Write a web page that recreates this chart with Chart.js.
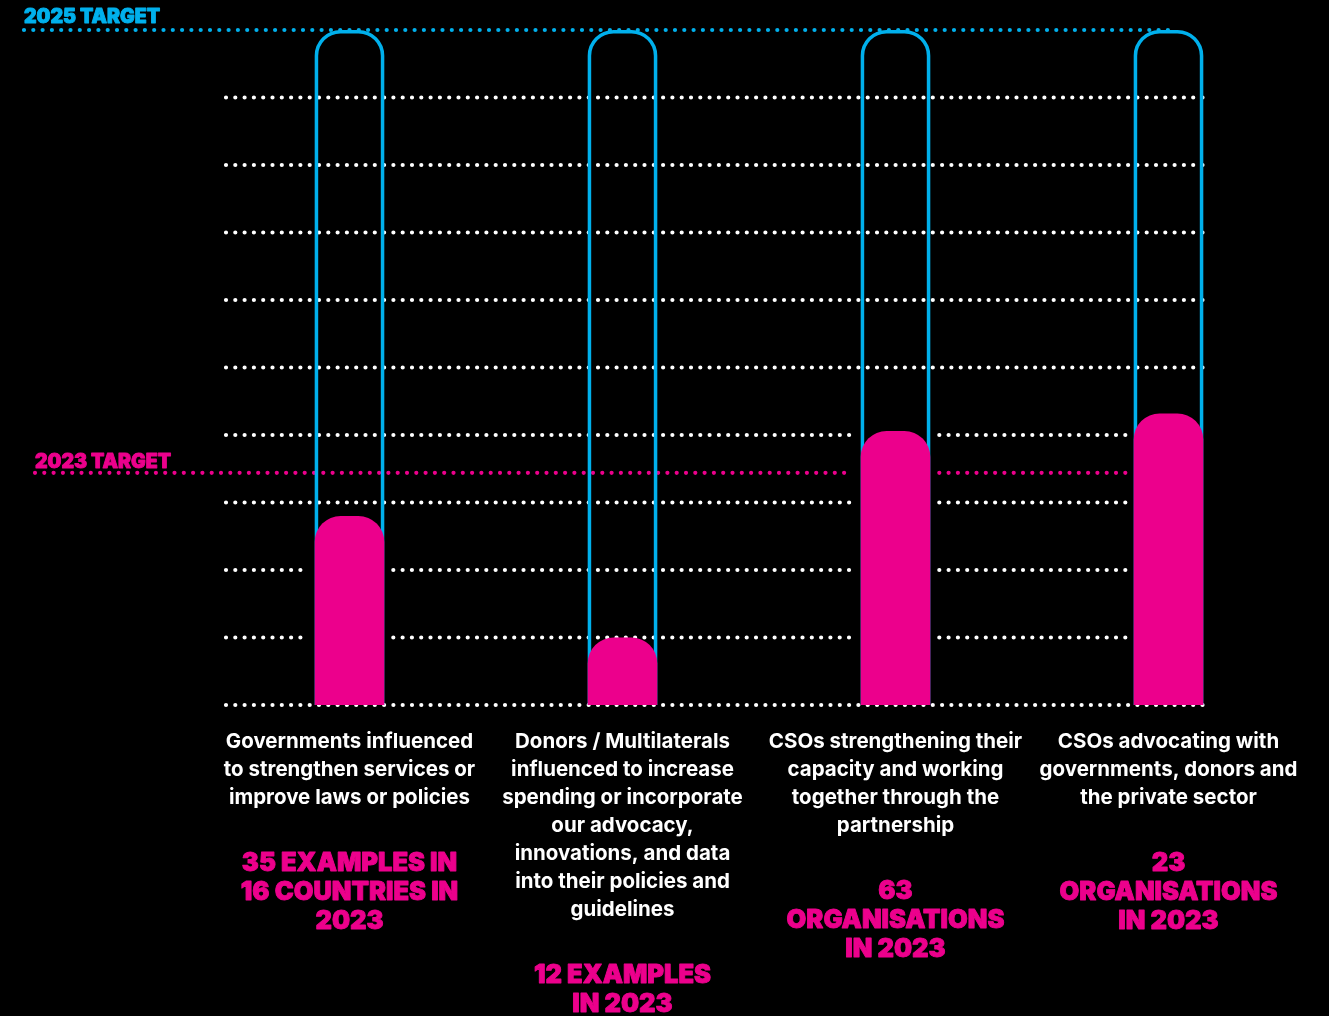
<!DOCTYPE html>
<html>
<head>
<meta charset="utf-8">
<script src="https://cdn.jsdelivr.net/npm/chart.js@4"></script>
<style>
  html, body { margin: 0; padding: 0; background: #000; }
  canvas { display: block; }
</style>
</head>
<body>
<canvas id="chart" width="1329" height="1016"></canvas>
<script>
// 数据
const categories = [
    ["Governments influenced", "to strengthen services or", "improve laws or policies"],
    ["Donors / Multilaterals", "influenced to increase", "spending or incorporate", "our advocacy,", "innovations, and data", "into their policies and", "guidelines"],
    ["CSOs strengthening their", "capacity and working", "together through the", "partnership"],
    ["CSOs advocating with", "governments, donors and", "the private sector"]
];
const results = [
    ["35 EXAMPLES IN", "16 COUNTRIES IN", "2023"],
    ["12 EXAMPLES", "IN 2023"],
    ["63", "ORGANISATIONS", "IN 2023"],
    ["23", "ORGANISATIONS", "IN 2023"]
];
// progress towards the 2025 target (%)
const progress = [28, 10, 40.6, 43.2];
const target2025 = 100;
const target2023 = 34.4;
const gridTicks = [0, 10, 20, 30, 40, 50, 60, 70, 80, 90];

const PINK = '#ec008c';
const CYAN = '#00b0ec';
const HEAVY_FONT = '900 25.5px Inter, Lato, sans-serif';

// 点状线
function dotLine(ctx, x1, x2, y, color, gaps) {
    ctx.save();
    ctx.strokeStyle = color;
    ctx.lineWidth = 4.2;
    ctx.lineCap = 'round';
    ctx.setLineDash([0, 9.3]);
    let segs = [[x1, x2]];
    gaps.forEach(g => {
        segs = segs.flatMap(([a, b]) => {
            if (g[1] <= a || g[0] >= b) return [[a, b]];
            const out = [];
            if (g[0] > a) out.push([a, g[0]]);
            if (g[1] < b) out.push([g[1], b]);
            return out;
        });
    });
    segs.forEach(([a, b]) => {
        ctx.beginPath();
        ctx.moveTo(a, y);
        ctx.lineTo(b + 1, y);
        ctx.stroke();
    });
    ctx.restore();
}

// 粗体文字（描边加粗）
function heavyText(ctx, text, x, y, color) {
    ctx.fillStyle = color;
    ctx.strokeStyle = color;
    ctx.lineWidth = 0.9;
    ctx.lineJoin = 'round';
    ctx.strokeText(text, x, y);
    ctx.fillText(text, x, y);
}

const tubePlugin = {
    id: 'tubes',
    beforeDraw(chart) {
        const ctx = chart.ctx;
        ctx.save();
        ctx.fillStyle = '#000';
        ctx.fillRect(0, 0, chart.width, chart.height);
        ctx.restore();
    },
    beforeDatasetsDraw(chart) {
        const ctx = chart.ctx;
        const y = chart.scales.y;
        const bars = chart.getDatasetMeta(0).data;
        const lastRight = bars[bars.length - 1].x + bars[bars.length - 1].width / 2;

        const gapsFor = v => bars
            .map((b, i) => progress[i] > v && v > 0 ? [b.x - b.width / 2 - 9, b.x + b.width / 2 + 9] : null)
            .filter(Boolean);

        gridTicks.forEach(t => {
            dotLine(ctx, 226, lastRight + 4, y.getPixelForValue(t), '#ffffff', gapsFor(t));
        });
        dotLine(ctx, 35, lastRight, y.getPixelForValue(target2023), PINK, gapsFor(target2023));

        // 管子
        bars.forEach(b => {
            const lw = 3.5;
            const l = b.x - b.width / 2 + lw / 2;
            const r = b.x + b.width / 2 - lw / 2;
            const top = y.getPixelForValue(target2025) + lw / 2;
            const bottom = y.getPixelForValue(0);
            const rad = 24;
            ctx.save();
            ctx.strokeStyle = CYAN;
            ctx.lineWidth = lw;
            ctx.beginPath();
            ctx.moveTo(l, bottom);
            ctx.lineTo(l, top + rad);
            ctx.arcTo(l, top, l + rad, top, rad);
            ctx.lineTo(r - rad, top);
            ctx.arcTo(r, top, r, top + rad, rad);
            ctx.lineTo(r, bottom);
            ctx.stroke();
            ctx.restore();
        });
        dotLine(ctx, 24, lastRight - 30, y.getPixelForValue(target2025), CYAN, []);

        ctx.save();
        ctx.font = '900 19.5px Inter, Lato, sans-serif';
        ctx.textBaseline = 'alphabetic';
        heavyText(ctx, '2025 TARGET', 24, y.getPixelForValue(target2025) - 7, CYAN);
        heavyText(ctx, '2023 TARGET', 35, y.getPixelForValue(target2023) - 5, PINK);
        ctx.restore();
    },
    afterDraw(chart) {
        const ctx = chart.ctx;
        const x = chart.scales.x;
        const base = chart.scales.y.getPixelForValue(0);
        ctx.save();
        ctx.font = HEAVY_FONT;
        ctx.textAlign = 'center';
        ctx.textBaseline = 'middle';
        results.forEach((lines, i) => {
            const cx = x.getPixelForValue(i);
            let yy = base + 36 + (categories[i].length - 1) * 28 + 66;
            lines.forEach(line => {
                heavyText(ctx, line, cx, yy, PINK);
                yy += 29;
            });
        });
        ctx.restore();
    }
};

new Chart(document.getElementById('chart'), {
    type: 'bar',
    data: {
        labels: categories,
        datasets: [{
            data: progress,
            backgroundColor: PINK,
            borderWidth: 0,
            borderRadius: { topLeft: 26, topRight: 26, bottomLeft: 0, bottomRight: 0 },
            borderSkipped: 'start',
            categoryPercentage: 1,
            barPercentage: 0.255
        }]
    },
    options: {
        responsive: false,
        animation: false,
        layout: { padding: { left: 213, right: 24, top: 30, bottom: 0 } },
        plugins: { legend: { display: false }, tooltip: { enabled: false } },
        scales: {
            x: {
                grid: { display: false, drawTicks: false },
                border: { display: false },
                afterFit: s => { s.height = 311; },
                ticks: {
                    color: '#ffffff',
                    font: { family: 'Inter, Lato, sans-serif', size: 20.5, weight: '700', lineHeight: '28px' },
                    padding: 23,
                    maxRotation: 0,
                    autoSkip: false
                }
            },
            y: {
                display: false,
                min: 0,
                max: target2025
            }
        }
    },
    plugins: [tubePlugin]
});
</script>
</body>
</html>
